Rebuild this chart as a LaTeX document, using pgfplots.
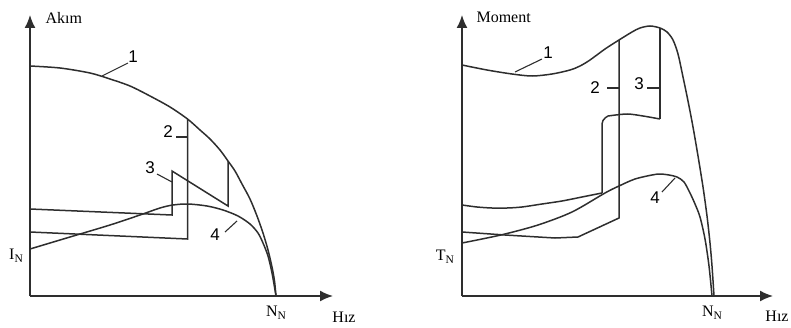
\documentclass[border=0pt]{standalone}
\usepackage{fontspec}
\setmainfont{Liberation Serif}
\newfontfamily\digitfont{Liberation Sans}
\usepackage{pgfplots}
\pgfplotsset{compat=1.18}
\usetikzlibrary{arrows.meta}
\definecolor{ink}{HTML}{2E2E2E}
\pgfplotsset{
  motor/.style={
    x=1pt, y=1pt, xmin=0, ymin=0, ymax=281,
    axis lines=left, clip=false, enlargelimits=false,
    xtick=\empty, ytick=\empty,
    axis line style={ink, line width=1.6pt, -{Latex[length=13pt,width=11pt]}},
    every axis plot/.append style={ink, line width=1.5pt, no markers},
  }
}
\newcommand{\lab}[1]{{\digitfont\fontsize{17}{17}\selectfont #1}}
\newcommand{\sub}[2]{{\fontsize{16}{16}\selectfont #1\raisebox{-3pt}{\fontsize{11.5}{11.5}\selectfont #2}}}
\begin{document}
\begin{tikzpicture}
\path[use as bounding box] (0,0) rectangle (791pt,327pt);
% ---------------- Left: current ----------------
\begin{axis}[motor, at={(30pt,31pt)}, anchor=south west, xmax=303]
\addplot[smooth] coordinates {(0,230)(30,228)(60,223)(80,217)(100,210)(120,200)(140,189)(157.5,177)(170,166)(180,157)(190,146)(198,135)(205,125)(212,112)(220,97)(227,80)(233,63)(238,46)(242,29)(244.5,15)(246,0)};
\addplot[sharp plot] coordinates {(0,64)(157.5,57)(157.5,177)};
\addplot[sharp plot] coordinates {(0,87)(142,81)(142,125)(198,90)(198,135)};
\addplot[smooth] coordinates {(0,47)(40,59)(80,71)(110,81)(130,88)(143,91)(158,92)(177,90)(193,86)(208,80)(220,72)(228,63)(233,53)(238,40)(242,23)(246,0)};
% leaders
\addplot[line width=1.1pt] coordinates {(72,220)(98,233)};
\addplot[line width=1.1pt] coordinates {(146,159)(157.5,159)};
\addplot[line width=1.1pt] coordinates {(127,122)(142,114)};
\addplot[line width=1.1pt] coordinates {(195,64)(207,75)};
\node at (axis cs:103,239) {\lab{1}};
\node at (axis cs:138,164) {\lab{2}};
\node at (axis cs:120,128) {\lab{3}};
\node at (axis cs:185,61) {\lab{4}};
\node[anchor=west] at (axis cs:12,278) {\fontsize{16}{16}\selectfont Akım};
\node at (axis cs:-14,40) {\sub{I}{N}};
\node at (axis cs:246,-17) {\sub{N}{N}};
\node at (axis cs:314,-21) {\fontsize{16}{16}\selectfont Hız};
\end{axis}
% ---------------- Right: torque ----------------
\begin{axis}[motor, at={(462pt,31pt)}, anchor=south west, xmax=311]
\addplot[smooth] coordinates {(0,231)(25,226)(50,222)(70,220)(90,222)(108,226)(118,230)(128,236)(143,247)(157,256)(170,264)(178,268)(188,270)(198,268)(205,264)(211,256)(216,242)(221,219)(226,195)(231,169)(236,140)(241,109)(245,80)(248,53)(250,30)(252,0)};
\addplot[sharp plot] coordinates {(0,64)(43,61)(93,58)(116,59)(157,78)(157,256)};
\addplot[smooth] coordinates {(0,91)(15,89)(30,88)(45,88)(60,89)(80,92)(100,95)(120,99)(140,103)};
\addplot[sharp plot, rounded corners=4pt] coordinates {(140,103)(140,176)(146,180)};
\addplot[smooth] coordinates {(146,180)(165,182)(181,180)(198,177)};
\addplot[sharp plot] coordinates {(198,177)(198,268)};
\addplot[smooth] coordinates {(0,53)(20,57)(43,62)(76,71)(110,84)(143,103)(157,110)(173,117)(190,121)(198,122)(207,121)(215,119)(222,114)(228,103)(233,92)(238,79)(243,57)(247,30)(250,0)};
% leaders
\addplot[line width=1.1pt] coordinates {(53,224)(80,237)};
\addplot[line width=1.1pt] coordinates {(145,208)(157,208)};
\addplot[line width=1.1pt] coordinates {(185,208)(198,208)};
\addplot[line width=1.1pt] coordinates {(200,104)(213,118)};
\node at (axis cs:86,243) {\lab{1}};
\node at (axis cs:133,208) {\lab{2}};
\node at (axis cs:177,212) {\lab{3}};
\node at (axis cs:193,98) {\lab{4}};
\node[anchor=west] at (axis cs:11,279) {\fontsize{16}{16}\selectfont Moment};
\node at (axis cs:-17,39) {\sub{T}{N}};
\node at (axis cs:250,-17) {\sub{N}{N}};
\node at (axis cs:315,-20) {\fontsize{16}{16}\selectfont Hız};
\end{axis}
\end{tikzpicture}
\end{document}
